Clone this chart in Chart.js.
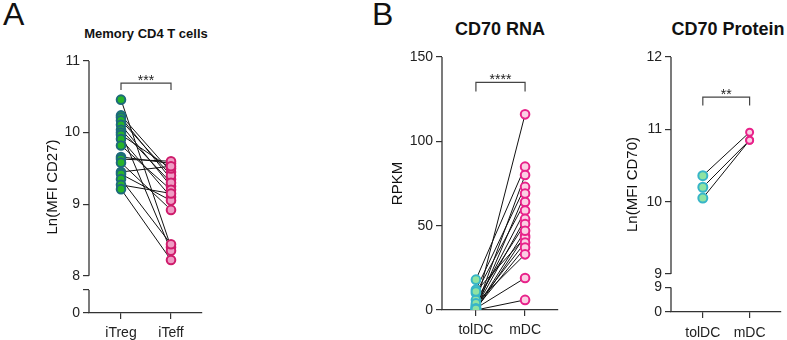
<!DOCTYPE html>
<html><head><meta charset="utf-8">
<script src="https://cdn.jsdelivr.net/npm/chart.js@4.4.1/dist/chart.umd.min.js"></script>
<style>
body{margin:0;background:#fff;width:787px;height:340px;position:relative;overflow:hidden;font-family:"Liberation Sans",Arial,sans-serif;}
.pl{position:absolute;font-size:32px;color:#111;line-height:1;}
.tt{position:absolute;font-weight:bold;color:#111;transform:translate(-50%,-50%);white-space:nowrap;line-height:1;}
canvas{position:absolute;top:0;}
</style></head><body>
<div class="pl" style="left:3px;top:-2px">A</div>
<div class="pl" style="left:372px;top:-2px">B</div>
<div class="tt" style="left:146px;top:33px;font-size:13px">Memory CD4 T cells</div>
<div class="tt" style="left:500px;top:29px;font-size:18px">CD70 RNA</div>
<div class="tt" style="left:728px;top:29px;font-size:18px">CD70 Protein</div>
<canvas id="cA" width="215" height="340" style="left:0px"></canvas>
<canvas id="cB" width="210" height="340" style="left:360px"></canvas>
<canvas id="cC" width="187" height="340" style="left:600px"></canvas>
<script>
// ---- Panel A data ----
const catsA = ['iTreg', 'iTeff'];
const iTreg = [10.46, 10.24, 10.21, 10.17, 10.11, 10.04, 10.00, 9.97, 9.91, 9.82, 9.66, 9.63, 9.58, 9.45, 9.42, 9.35, 9.27, 9.21];
const iTeff = [8.40, 9.45, 9.35, 9.40, 9.25, 9.30, 8.35, 9.50, 9.10, 9.20, 9.57, 9.60, 8.92, 9.53, 9.05, 8.44, 9.15, 8.22];
const tickValsA = [7.48, 7.80, 8, 9, 10, 11];
const tickLabsA = ['0', '', '8', '9', '10', '11'];

// ---- Panel B (CD70 RNA) data ----
const catsB = ['tolDC', 'mDC'];
const tolDC_rna = [2, 18, 1, 12, 0.5, 10, 3, 1.5, 6, 0, 11, 2.5, 1, 4, 1, 0, 0.5];
const mDC_rna   = [116, 85, 80, 73, 69, 64, 59, 54, 51, 44, 43, 40, 37, 33, 19, 6, 47];
const tickValsB = [0, 50, 100, 150];
const tickLabsB = ['0', '50', '100', '150'];

// ---- Panel C (CD70 Protein) data ----
const catsC = ['tolDC', 'mDC'];
const tolDC_prot = [10.36, 10.20, 10.05];
const mDC_prot   = [10.96, 10.85, 10.85];
const tickValsC = [8.476, 8.814, 9, 10, 11, 12];
const tickLabsC = ['0', '9', '9', '10', '11', '12'];

const FONT = '"Liberation Sans", Arial, sans-serif';

const axisPlugin = {
  id: 'brokenAxis',
  afterDatasetsDraw(chart, args, opts) {
    const y = chart.scales.y, x = chart.scales.x, ctx = chart.ctx;
    ctx.save();
    ctx.strokeStyle = '#333'; ctx.lineWidth = 1.3;
    opts.segments.forEach(([a, b]) => {
      ctx.beginPath();
      ctx.moveTo(x.left, y.getPixelForValue(a));
      ctx.lineTo(x.left, y.getPixelForValue(b));
      ctx.stroke();
    });
    ctx.fillStyle = '#222';
    ctx.font = '14px ' + FONT;
    ctx.textAlign = 'center';
    ctx.textBaseline = 'alphabetic';
    ctx.fillText(opts.stars, (x.getPixelForValue(0) + x.getPixelForValue(1)) / 2, y.getPixelForValue(opts.starY) + 1.5);
    ctx.restore();
  }
};

function pairedChart(id, c) {
  const ds = [];
  c.left.forEach((v, i) => {
    ds.push({ data: [{x: 0, y: v}, {x: 1, y: c.right[i]}], showLine: true, borderColor: '#111', borderWidth: 1, pointRadius: 0, order: 3 });
  });
  ds.push({ data: [{x: 0, y: c.br[0]}, {x: 0, y: c.br[1]}, {x: 1, y: c.br[1]}, {x: 1, y: c.br[0]}], showLine: true, borderColor: '#444', borderWidth: 1.2, pointRadius: 0, order: 2 });
  ds.push({ data: c.left.map(v => ({x: 0, y: v})), pointRadius: c.r0, pointBorderWidth: 2, pointBackgroundColor: c.fill0, pointBorderColor: c.stroke0, order: 1 });
  ds.push({ data: c.right.map(v => ({x: 1, y: v})), pointRadius: c.r1, pointBorderWidth: 2, pointBackgroundColor: c.fill1, pointBorderColor: c.stroke1, order: 1 });
  new Chart(document.getElementById(id), {
    type: 'scatter',
    data: { datasets: ds },
    plugins: [axisPlugin],
    options: {
      responsive: false, animation: false, devicePixelRatio: 1,
      layout: { padding: { left: 0, right: c.padR, top: c.padT, bottom: 0 } },
      plugins: { legend: { display: false }, tooltip: { enabled: false },
        brokenAxis: { segments: c.segments, stars: c.stars, starY: c.br[1] } },
      scales: {
        x: {
          type: 'linear', min: c.xmin, max: c.xmax,
          afterBuildTicks: s => { s.ticks = [{value: 0}, {value: 1}]; },
          afterFit: s => { s.height = c.hx; },
          ticks: { callback: v => c.cats[v], autoSkip: false, maxRotation: 0, padding: c.xpad, color: '#222', font: { family: FONT, size: 14 } },
          grid: { drawOnChartArea: false, drawTicks: true, tickLength: 6, color: '#333', lineWidth: 1.2 },
          border: { display: true, color: '#333', width: 1.3 }
        },
        y: {
          type: 'linear', min: c.ymin, max: c.ymax,
          afterBuildTicks: s => { s.ticks = c.tv.map(v => ({value: v})); },
          afterFit: s => { s.width = c.wy; },
          ticks: { callback: (v, i) => c.tl[i], autoSkip: false, padding: 3, color: '#222', font: { family: FONT, size: 14 } },
          grid: { drawOnChartArea: false, drawTicks: true, tickLength: 6, color: '#333', lineWidth: 1.2 },
          border: { display: false },
          title: { display: true, text: c.ytitle, color: '#111', font: { family: FONT, size: 15 }, padding: { top: c.tpad, bottom: 0 } }
        }
      }
    }
  });
}

pairedChart('cA', {
  cats: catsA, left: iTreg, right: iTeff,
  fill0: '#27b42a', stroke0: '#1d6a7c', fill1: '#ef9cc4', stroke1: '#cf1c6c', r0: 4.3, r1: 4.3,
  xmin: -0.64, xmax: 1.62, ymin: 7.48, ymax: 11, tv: tickValsA, tl: tickLabsA,
  segments: [[7.48, 7.80], [8, 11]], br: [10.595, 10.69], stars: '***',
  padR: 13, padT: 61, hx: 27, wy: 89, tpad: 44, ytitle: 'Ln(MFI CD27)', xpad: 6
});
pairedChart('cB', {
  cats: catsB, left: tolDC_rna, right: mDC_rna,
  fill0: '#8fe3a2', stroke0: '#38b5c8', fill1: '#fbd0e4', stroke1: '#e8228a', r0: 4.3, r1: 4.3,
  xmin: -0.69, xmax: 1.67, ymin: 0, ymax: 150, tv: tickValsB, tl: tickLabsB,
  segments: [[0, 150]], br: [129.6, 135], stars: '****',
  padR: 12, padT: 57, hx: 30, wy: 82, tpad: 29, ytitle: 'RPKM', xpad: 6
});
pairedChart('cC', {
  cats: catsC, left: tolDC_prot, right: mDC_prot,
  fill0: '#8fe3a2', stroke0: '#38b5c8', fill1: '#fbd0e4', stroke1: '#e8228a', r0: 4.5, r1: 3.5,
  xmin: -0.68, xmax: 1.66, ymin: 8.476, ymax: 12, tv: tickValsC, tl: tickLabsC,
  segments: [[8.476, 8.814], [9, 12]], br: [11.33, 11.446], stars: '**',
  padR: 2, padT: 57, hx: 28, wy: 71, tpad: 24, ytitle: 'Ln(MFI CD70)', xpad: 7
});
</script>
</body></html>
